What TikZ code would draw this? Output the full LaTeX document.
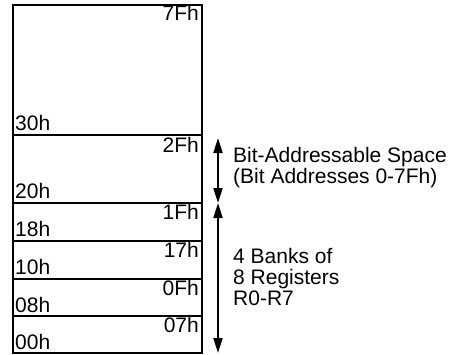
\documentclass[tikz,border=0pt]{standalone}
\usepackage{fontspec}
\setmainfont{Liberation Sans}
\usetikzlibrary{arrows.meta}
\begin{document}
\begin{tikzpicture}[x=1pt,y=-1pt,
  wall/.style={line width=2pt},
  hi/.style={anchor=base east,inner sep=0pt,font=\fontsize{21}{21}\selectfont},
  lo/.style={anchor=base west,inner sep=0pt,font=\fontsize{21}{21}\selectfont},
  span/.style={line width=2pt,{Triangle[length=15pt,width=9pt]}-{Triangle[length=15pt,width=9pt]}},
  note/.style={anchor=base west,inner sep=0pt,align=left,font=\fontsize{21}{20.8}\selectfont}]
\useasboundingbox (0,0) rectangle (450,354);
\draw[wall] (13,5) rectangle (202,353);
\foreach \y in {135,203,241,279,316} \draw[wall] (13,\y) -- (202,\y);
\node[hi] (l7f) at (199,20.5) {7Fh};
\node[lo] (l30) at (15,130) {30h};
\node[hi] (l2f) at (199,152.5) {2Fh};
\node[lo] (l20) at (15,198) {20h};
\node[hi] (l1f) at (199,219.5) {1Fh};
\node[lo] (l18) at (15,236) {18h};
\node[hi] (l17) at (199,257.5) {17h};
\node[lo] (l10) at (15,274) {10h};
\node[hi] (l0f) at (199,295.5) {0Fh};
\node[lo] (l08) at (15,312) {08h};
\node[hi] (l07) at (199,332.5) {07h};
\node[lo] (l00) at (15,349) {00h};
\coordinate (a1) at (218,138);
\coordinate (a2) at (218,203);
\coordinate (a3) at (218,353);
\draw[span] (a1) -- (a2);
\draw[span] (a2) -- (a3);
\node[note] (bit) at (233,183) {Bit-Addressable Space\\(Bit Addresses 0-7Fh)};
\node[note] (banks) at (233,305) {4 Banks of\\8 Registers\\R0-R7};
\end{tikzpicture}
\end{document}
